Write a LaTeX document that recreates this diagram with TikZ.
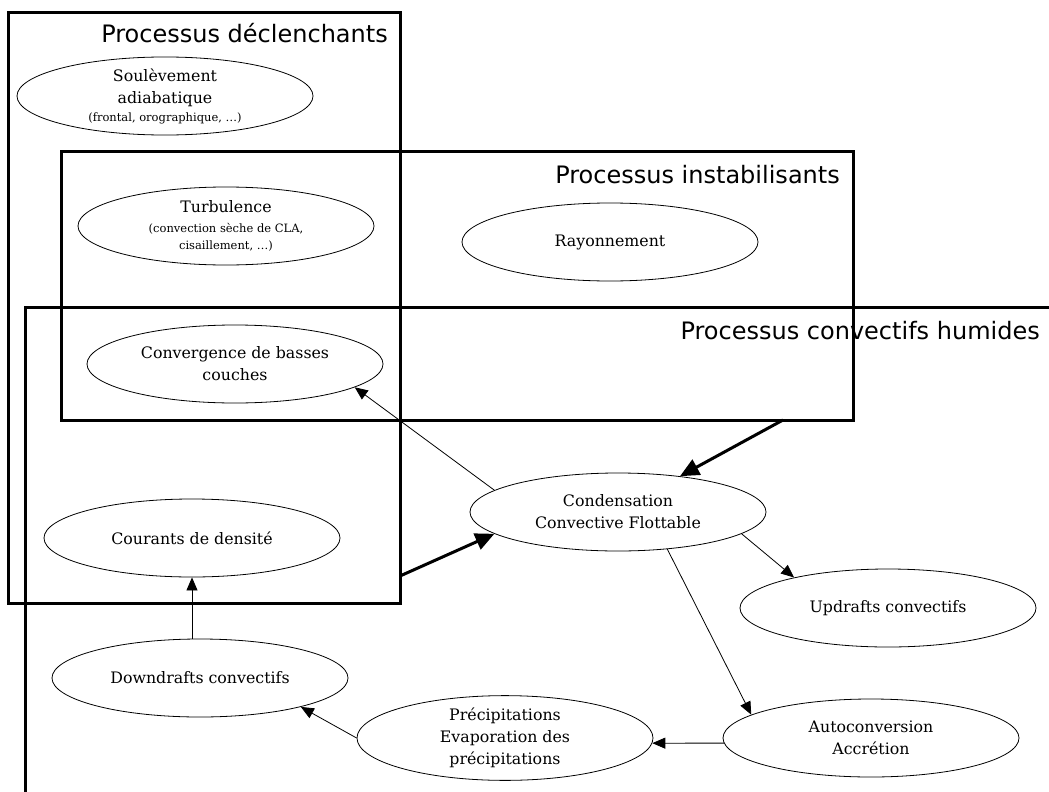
\documentclass[tikz,border=0pt]{standalone}
\usepackage{fontspec}
\setmainfont{DejaVu Serif}
\newfontfamily\titlefont{DejaVu Sans}
\usetikzlibrary{shapes.geometric,arrows.meta}
\newcommand{\smalltxt}{\fontsize{11.5}{17}\selectfont}
\tikzset{
  proc/.style={draw, ellipse, line width=0.8pt, minimum width=296pt, minimum height=78pt,
    inner sep=0pt, align=center, font=\fontsize{15.8}{22}\selectfont},
  boxline/.style={line width=3pt},
  boxtitle/.style={anchor=base east, inner sep=0pt, font=\titlefont\fontsize{24}{28}\selectfont},
  thinarrow/.style={-{Triangle[length=13pt,width=11pt]}, line width=0.8pt},
  thickarrow/.style={-{Triangle[length=19pt,width=17pt]}, line width=3pt}
}
\begin{document}
\begin{tikzpicture}[x=1pt, y=-1pt]
  \useasboundingbox (0,0) rectangle (1049,792);
  \fill[white] (0,0) rectangle (1049,792);
  \clip (0,0) rectangle (1049,792);
  % process boxes
  \draw[boxline] (8,13) rectangle (400,603);
  \draw[boxline] (61,151) rectangle (853,420);
  \draw[boxline] (25,307) rectangle (1100,850);
  \node[boxtitle] (declenTitle) at (388,43) {Processus déclenchants};
  \node[boxtitle] (instabTitle) at (840,183) {Processus instabilisants};
  \node[boxtitle] (humideTitle) at (1040,339) {Processus convectifs humides};
  \coordinate (instabOut) at (783,420);
  \coordinate (declenOut) at (400,576);
  % processes
  \node[proc] (soul) at (165,96) {Soulèvement\\adiabatique\\[-4pt]{\smalltxt (frontal, orographique, …)}};
  \node[proc] (turb) at (226,226) {Turbulence\\[-2pt]{\smalltxt (convection sèche de CLA,}\\[-5pt]{\smalltxt cisaillement, …)}};
  \node[proc] (rayon) at (610,242) {Rayonnement};
  \node[proc] (conv) at (235,364) {Convergence de basses\\couches};
  \node[proc] (cour) at (192,538) {Courants de densité};
  \node[proc] (conden) at (618,512) {Condensation\\Convective Flottable};
  \node[proc] (upd) at (888,608) {Updrafts convectifs};
  \node[proc] (down) at (200,678) {Downdrafts convectifs};
  \node[proc] (precip) at (505,738) {Précipitations\\Evaporation des\\précipitations};
  \node[proc] (auto) at (871,738) {Autoconversion\\Accrétion};
  % links
  \draw[thickarrow] (instabOut) -- (conden.30);
  \draw[thickarrow] (declenOut) -- (conden.190);
  \draw[thinarrow] (conden.170) -- (conv.-11);
  \draw[thinarrow] (conden.-10) -- (upd.162);
  \draw[thinarrow] (conden.-37) -- (auto.169);
  \draw[thinarrow] (auto.182) -- (precip.-2);
  \draw[thinarrow] (precip.west) -- (down.-16);
  \draw[thinarrow] (cour.south |- down.north) -- (cour.south);
\end{tikzpicture}
\end{document}
